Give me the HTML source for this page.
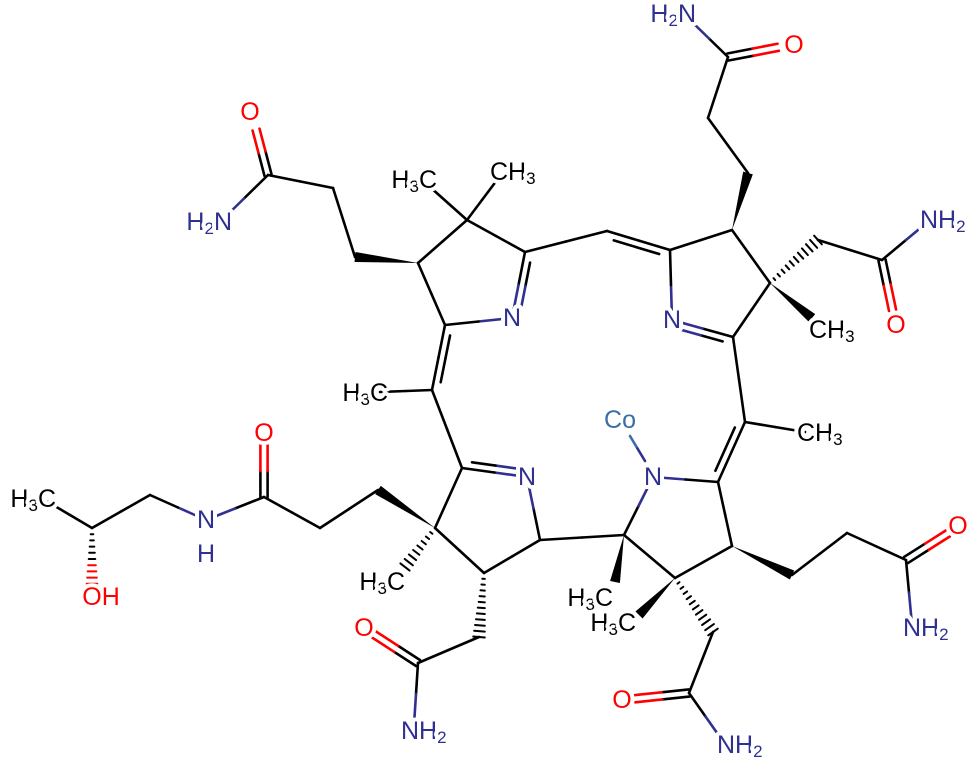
<!DOCTYPE html>
<html><head><meta charset="utf-8"><style>
html,body{margin:0;padding:0;background:#fff;}
svg{display:block;}
text{font-family:"Liberation Sans",Arial,sans-serif;font-size:25px;dominant-baseline:central;paint-order:stroke;stroke:#fff;stroke-width:8px;stroke-linejoin:round;}
.n{fill:#303090}.o{fill:#f00}.c{fill:#000}.co{fill:#3a6ea5}
tspan.s{font-size:17px;}
</style></head><body>
<svg id="svg" width="969" height="764" viewBox="0 0 969 764" xmlns="http://www.w3.org/2000/svg">
<g id="b" stroke-linecap="round"></g>
<g id="t">
<text class="n" x="512" y="318" text-anchor="middle">N</text>
<text class="n" x="672" y="320" text-anchor="middle">N</text>
<text class="n" x="527" y="477" text-anchor="middle">N</text>
<text class="n" x="653" y="477" text-anchor="middle">N</text>
<text class="co" x="620" y="420" text-anchor="middle">Co</text>
<text class="c" x="437" y="180" text-anchor="end">H<tspan class="s" dy="6">3</tspan><tspan dy="-6">C</tspan></text>
<text class="c" x="490" y="172" text-anchor="start">CH<tspan class="s" dy="6">3</tspan></text>
<text class="c" x="388" y="393" text-anchor="end">H<tspan class="s" dy="6">3</tspan><tspan dy="-6">C</tspan></text>
<text class="c" x="797" y="433" text-anchor="start">CH<tspan class="s" dy="6">3</tspan></text>
<text class="c" x="809" y="330" text-anchor="start">CH<tspan class="s" dy="6">3</tspan></text>
<text class="c" x="405" y="582" text-anchor="end">H<tspan class="s" dy="6">3</tspan><tspan dy="-6">C</tspan></text>
<text class="c" x="613" y="598" text-anchor="end">H<tspan class="s" dy="6">3</tspan><tspan dy="-6">C</tspan></text>
<text class="c" x="636" y="623" text-anchor="end">H<tspan class="s" dy="6">3</tspan><tspan dy="-6">C</tspan></text>
<text class="c" x="56" y="499" text-anchor="end">H<tspan class="s" dy="6">3</tspan><tspan dy="-6">C</tspan></text>
<text class="o" x="250" y="112" text-anchor="middle">O</text>
<text class="o" x="794" y="45" text-anchor="middle">O</text>
<text class="o" x="896" y="325" text-anchor="middle">O</text>
<text class="o" x="958" y="526" text-anchor="middle">O</text>
<text class="o" x="622" y="700" text-anchor="middle">O</text>
<text class="o" x="364" y="628" text-anchor="middle">O</text>
<text class="o" x="264" y="433" text-anchor="middle">O</text>
<text class="o" x="101" y="597" text-anchor="middle">OH</text>
<text class="n" x="232" y="222" text-anchor="end">H<tspan class="s" dy="6">2</tspan><tspan dy="-6">N</tspan></text>
<text class="n" x="696" y="14" text-anchor="end">H<tspan class="s" dy="6">2</tspan><tspan dy="-6">N</tspan></text>
<text class="n" x="920" y="220" text-anchor="start">NH<tspan class="s" dy="6">2</tspan></text>
<text class="n" x="903" y="628" text-anchor="start">NH<tspan class="s" dy="6">2</tspan></text>
<text class="n" x="717" y="745" text-anchor="start">NH<tspan class="s" dy="6">2</tspan></text>
<text class="n" x="401" y="731" text-anchor="start">NH<tspan class="s" dy="6">2</tspan></text>
<text class="n" x="206" y="520" text-anchor="middle">N</text>
<text class="n" x="206" y="554" text-anchor="middle">H</text>
</g>
</svg>
<script>
var g=document.getElementById('b'),NS='http://www.w3.org/2000/svg';
var K='#000',NB='#303090',OR='#f00',CO='#3a6ea5';
function ln(x1,y1,x2,y2,c){var e=document.createElementNS(NS,'line');e.setAttribute('x1',x1);e.setAttribute('y1',y1);e.setAttribute('x2',x2);e.setAttribute('y2',y2);e.setAttribute('stroke',c);e.setAttribute('stroke-width',2.6);g.appendChild(e);}
function L(x1,y1,x2,y2,c1,c2){c1=c1||K;c2=c2||c1;var mx=(x1+x2)/2,my=(y1+y2)/2;ln(x1,y1,mx,my,c1);ln(mx,my,x2,y2,c2);}
function D(x1,y1,x2,y2,px,py,c1,c2){L(x1,y1,x2,y2,c1,c2);var dx=x2-x1,dy=y2-y1,l=Math.hypot(dx,dy),nx=-dy/l,ny=dx/l;
 if((px-x1)*nx+(py-y1)*ny<0){nx=-nx;ny=-ny;}var o=7,s=0.14;
 L(x1+dx*s+nx*o,y1+dy*s+ny*o,x2-dx*s+nx*o,y2-dy*s+ny*o,c1,c2);}
function C2(x1,y1,x2,y2,c1,c2){var dx=x2-x1,dy=y2-y1,l=Math.hypot(dx,dy);x2-=dx/l*12;y2-=dy/l*12;var nx=-dy/l*3.6,ny=dx/l*3.6;
 L(x1+nx,y1+ny,x2+nx,y2+ny,c1,c2);L(x1-nx,y1-ny,x2-nx,y2-ny,c1,c2);}
function W(x1,y1,x2,y2){var dx=x2-x1,dy=y2-y1,l=Math.hypot(dx,dy),nx=-dy/l*5,ny=dx/l*5;
 var p=document.createElementNS(NS,'polygon');p.setAttribute('points',x1+','+y1+' '+(x2+nx)+','+(y2+ny)+' '+(x2-nx)+','+(y2-ny));p.setAttribute('fill','#000');g.appendChild(p);}
function H(x1,y1,x2,y2,c2){var dx=x2-x1,dy=y2-y1,l=Math.hypot(dx,dy),nx=-dy/l,ny=dx/l,n=Math.round(l/6);
 for(var i=1;i<=n;i++){var t=i/n,w=0.8+5*t,cx=x1+dx*t,cy=y1+dy*t;var e=document.createElementNS(NS,'line');
 e.setAttribute('x1',cx+nx*w);e.setAttribute('y1',cy+ny*w);e.setAttribute('x2',cx-nx*w);e.setAttribute('y2',cy-ny*w);
 e.setAttribute('stroke',(c2&&t>0.5)?c2:K);e.setAttribute('stroke-width',2);g.appendChild(e);}}
L(418,263,467,220);L(467,220,525,252);D(525,252,512,318,560,300,K,NB);L(512,318,445,325,NB,K);L(445,325,418,263);
L(467,220,430,187);L(467,220,497,180);
L(525,252,607,231);D(607,231,670,250,640,280);
L(670,250,732,230);L(732,230,770,283);L(770,283,733,337);D(733,337,672,320,710,360,K,NB);L(672,320,670,250,NB,K);
L(733,337,745,422);L(745,422,805,432);D(745,422,718,482,700,440);
L(653,477,718,482,NB,K);L(718,482,732,546);L(732,546,675,578);L(675,578,624,535);L(624,535,653,477,K,NB);
L(630,436,645,461,CO,NB);
L(624,535,540,540);
L(540,540,527,477,K,NB);D(527,477,462,468,490,440,NB,K);L(462,468,435,528);L(435,528,484,573);L(484,573,540,540);
L(462,468,432,390);D(432,390,445,325,470,370);L(432,390,380,392);
W(418,263,355,257);L(355,257,333,188);L(333,188,268,175);C2(268,175,253,118,K,OR);L(268,175,220,222,K,NB);
W(732,230,748,173);L(748,173,708,118);L(708,118,728,57);C2(728,57,790,45,K,OR);L(728,57,690,20,K,NB);
H(770,283,818,240);L(818,240,882,260);C2(882,260,895,322,K,OR);L(882,260,930,220,K,NB);
W(770,283,812,318);
W(732,546,792,575);L(792,575,847,533);L(847,533,906,560);C2(906,560,958,527,K,OR);L(906,560,912,625,K,NB);
H(675,578,713,632);L(713,632,689,693);C2(689,693,623,700,K,OR);L(689,693,722,740,K,NB);
W(675,578,639,615);W(624,535,615,582);
H(484,573,479,637);L(479,637,418,663);C2(418,663,364,628,K,OR);L(418,663,414,725,K,NB);
H(435,528,405,567);
W(435,528,378,490);L(378,490,320,528);L(320,528,264,497);C2(264,497,264,433,K,OR);L(264,497,206,520,K,NB);
L(206,520,150,495,NB,K);L(150,495,92,528);L(92,528,48,502);H(92,528,92,590,OR);
</script>
</body></html>
